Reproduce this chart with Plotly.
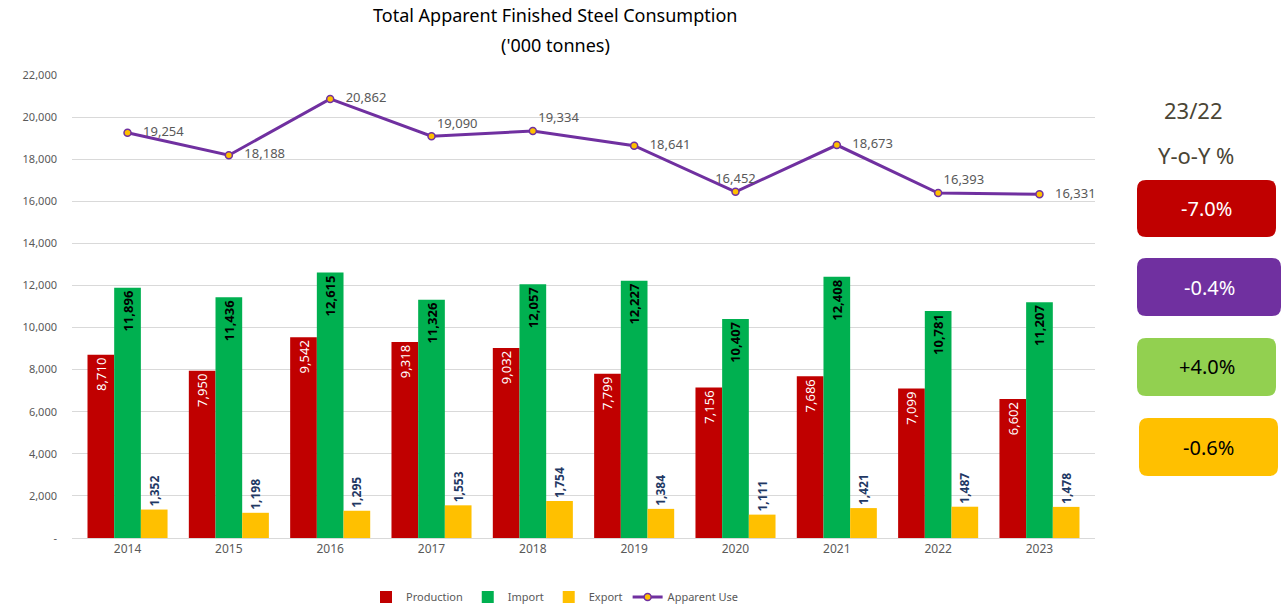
import plotly.graph_objects as go

years = ["2014", "2015", "2016", "2017", "2018", "2019", "2020", "2021", "2022", "2023"]
production = [8710, 7950, 9542, 9318, 9032, 7799, 7156, 7686, 7099, 6602]
imports = [11896, 11436, 12615, 11326, 12057, 12227, 10407, 12408, 10781, 11207]
exports = [1352, 1198, 1295, 1553, 1754, 1384, 1111, 1421, 1487, 1478]
apparent = [19254, 18188, 20862, 19090, 19334, 18641, 16452, 18673, 16393, 16331]
apparent_pos = ["middle right", "middle right", "middle right", "top right", "top right",
                "middle right", "top center", "middle right", "top right", "middle right"]
yoy_labels = ["-7.0%", "-0.4%", "+4.0%", "-0.6%"]
yoy_colors = ["#C00000", "#7030A0", "#92D050", "#FFC000"]
yoy_text_colors = ["white", "white", "black", "black"]
tick_vals = [0, 2000, 4000, 6000, 8000, 10000, 12000, 14000, 16000, 18000, 20000, 22000]
tick_text = ["-", "2,000", "4,000", "6,000", "8,000", "10,000", "12,000", "14,000",
             "16,000", "18,000", "20,000", "22,000"]

W, H = 1284, 607
L, R, T, B = 72, 1095, 75, 538
FONT = "Noto Sans"

fig = go.Figure()
fig.add_trace(go.Bar(
    x=years, y=production, name="Production", marker_color="#C00000",
    marker_line_width=0, constraintext="none",
    texttemplate="%{y:,.0f}", textposition="inside", insidetextanchor="end",
    textangle=-90, textfont=dict(color="white", size=13, family=FONT),
))
fig.add_trace(go.Bar(
    x=years, y=imports, name="Import", marker_color="#00B050",
    marker_line_width=0, constraintext="none",
    texttemplate="<b>%{y:,.0f}</b>", textposition="inside", insidetextanchor="end",
    textangle=-90, textfont=dict(color="black", size=13, family=FONT),
))
fig.add_trace(go.Bar(
    x=years, y=exports, name="Export", marker_color="#FFC000",
    marker_line_width=0, constraintext="none",
    texttemplate="<b>%{y:,.0f}</b>", textposition="outside",
    textangle=-90, textfont=dict(color="#1F3864", size=12, family=FONT),
    cliponaxis=False,
))
fig.add_trace(go.Scatter(
    x=years, y=apparent, name="Apparent Use", mode="lines+markers+text",
    line=dict(color="#7030A0", width=3),
    marker=dict(color="#FFC000", size=7, line=dict(color="#7030A0", width=1.5)),
    text=[f"&nbsp;&nbsp;&nbsp;{v:,}" if p.startswith("middle") else f"{v:,}"
          for v, p in zip(apparent, apparent_pos)],
    textposition=apparent_pos,
    textfont=dict(color="#595959", size=13, family=FONT),
    cliponaxis=False,
))


def px_to_paper(x, y):
    return (x - L) / (R - L), (B - y) / (B - T)


def rounded_path(x0, y0, x1, y1, r):
    def p(x, y):
        px, py = px_to_paper(x, y)
        return f"{px:.5f},{py:.5f}"
    return (f"M {p(x0 + r, y0)} L {p(x1 - r, y0)} Q {p(x1, y0)} {p(x1, y0 + r)} "
            f"L {p(x1, y1 - r)} Q {p(x1, y1)} {p(x1 - r, y1)} "
            f"L {p(x0 + r, y1)} Q {p(x0, y1)} {p(x0, y1 - r)} "
            f"L {p(x0, y0 + r)} Q {p(x0, y0)} {p(x0 + r, y0)} Z")


boxes = [(1137, 180, 1276, 237), (1137, 258, 1281, 316), (1137, 338, 1276, 396), (1139, 418, 1278, 476)]
shapes = []
annotations = []
for (x0, y0, x1, y1), lab, col, tc in zip(boxes, yoy_labels, yoy_colors, yoy_text_colors):
    shapes.append(dict(type="path", xref="paper", yref="paper", path=rounded_path(x0, y0, x1, y1, 9),
                       fillcolor=col, line=dict(width=0), layer="above"))
    cx, cy = px_to_paper((x0 + x1) / 2, (y0 + y1) / 2)
    annotations.append(dict(xref="paper", yref="paper", x=cx, y=cy, text=lab, showarrow=False,
                            font=dict(color=tc, size=20, family=FONT), xanchor="center", yanchor="middle"))

for txt, (x, y) in [("23/22", (1193, 110)), ("Y-o-Y %", (1196, 155))]:
    ax, ay = px_to_paper(x, y)
    annotations.append(dict(xref="paper", yref="paper", x=ax, y=ay, text=txt, showarrow=False,
                            font=dict(color="#4A4535", size=22, family=FONT), xanchor="center", yanchor="middle"))

for txt, (x, y) in [("Total Apparent Finished Steel Consumption", (555, 15)), ("('000 tonnes)", (555, 45))]:
    ax, ay = px_to_paper(x, y)
    annotations.append(dict(xref="paper", yref="paper", x=ax, y=ay, text=txt, showarrow=False,
                            font=dict(color="black", size=18, family=FONT), xanchor="center", yanchor="middle"))

lx, ly = px_to_paper(555, 597)

fig.update_layout(
    width=W, height=H,
    margin=dict(l=L, r=W - R, t=T, b=H - B, autoexpand=False),
    paper_bgcolor="white", plot_bgcolor="white",
    barmode="group", bargap=0.21, bargroupgap=0,
    font=dict(family=FONT, color="#595959"),
    showlegend=True,
    legend=dict(orientation="h", x=lx, y=ly, xanchor="center", yanchor="middle",
                font=dict(size=11, color="#595959", family=FONT), itemwidth=30),
    shapes=shapes, annotations=annotations,
    xaxis=dict(showgrid=False, showline=True, linecolor="#D9D9D9", ticks="",
               tickfont=dict(size=12, color="#595959"), automargin=False),
    yaxis=dict(range=[0, 22000], tickvals=tick_vals, ticktext=tick_text, showgrid=True,
               gridcolor="#D9D9D9", gridwidth=1, zeroline=False, ticks="",
               tickfont=dict(size=11, color="#595959"), ticklabelstandoff=14, automargin=False),
)

fig.write_html("out.html", config={"displayModeBar": False},
               post_script="document.body.style.margin='0';document.body.style.overflow='hidden';")
